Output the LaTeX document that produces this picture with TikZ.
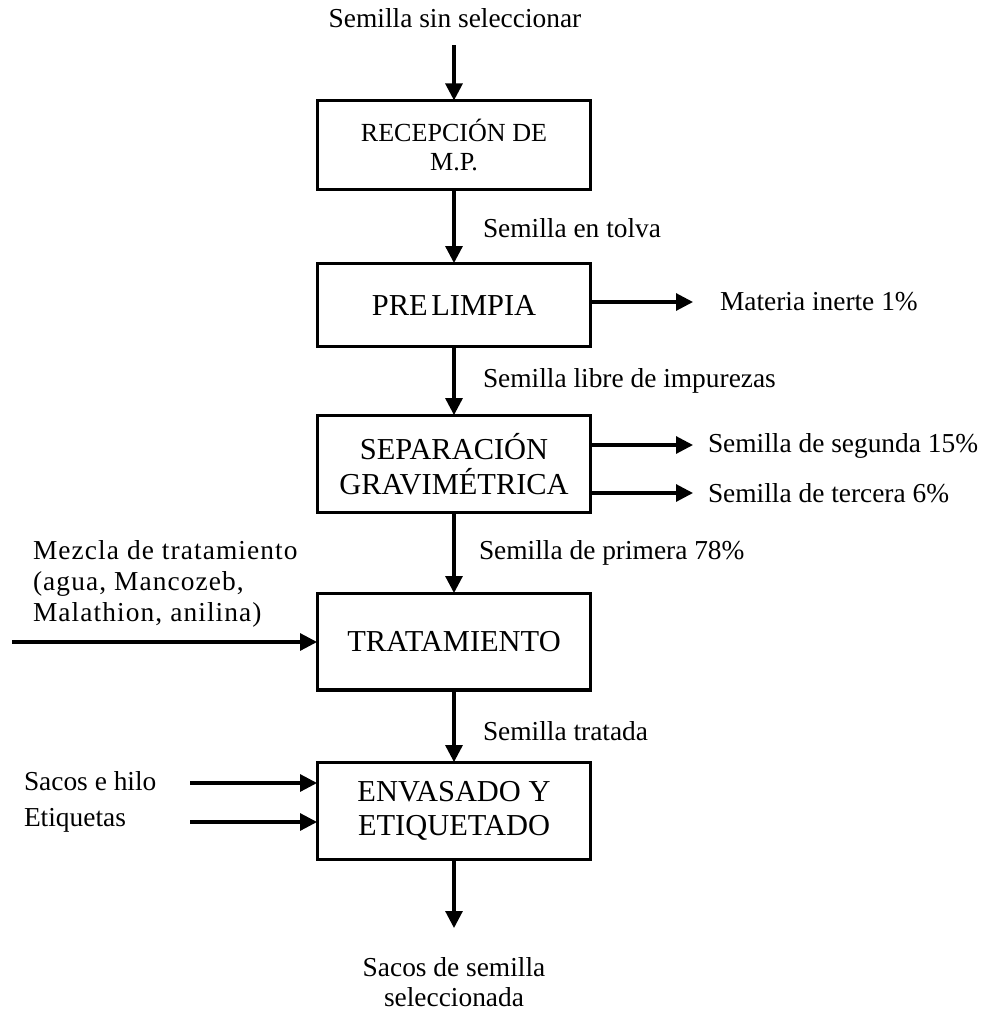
\documentclass[tikz,border=0pt]{standalone}
\usepackage{fontspec}
\setmainfont{Liberation Serif}
\usetikzlibrary{arrows.meta}
\begin{document}
\begin{tikzpicture}[x=0.46pt,y=-0.46pt,
  every node/.style={inner sep=0pt, outer sep=0pt},
  lbl/.style={font=\fontsize{12.6}{14}\selectfont, align=left},
  procbox/.style={draw, line width=1.4pt, minimum width=126pt, align=center,
    font=\fontsize{14}{15.8}\selectfont},
  flow/.style={line width=1.4pt, -{Triangle[length=7.8pt,width=7.8pt]}}]
\useasboundingbox (0,0) rectangle (986,1012);

% process boxes
\node[procbox, minimum height=41pt, font=\fontsize{12}{13.4}\selectfont] (recep) at (454,145) {RECEPCIÓN DE\\M.P.};
\node[procbox, minimum height=38.6pt] (prel) at (454,305) {PRE\hspace{0.12em}LIMPIA};
\node[procbox, minimum height=45pt] (sep) at (454,464) {SEPARACIÓN\\GRAVIMÉTRICA};
\node[procbox, minimum height=44.6pt] (trat) at (454,641.5) {TRATAMIENTO};
\node[procbox, minimum height=45pt] (env) at (454,811) {ENVASADO Y\\ETIQUETADO};

% stream labels
\node[lbl] (raw) at (455,18) {Semilla sin seleccionar};
\node[lbl, anchor=west] (tolva) at (483,228) {Semilla en tolva};
\node[lbl, anchor=west] (inerte) at (720,302) {Materia inerte 1\%};
\node[lbl, anchor=west] (libre) at (483,381) {Semilla libre de impurezas};
\node[lbl, anchor=west] (segunda) at (708,446) {Semilla de segunda 15\%};
\node[lbl, anchor=west] (tercera) at (708,493) {Semilla de tercera 6\%};
\node[lbl, anchor=west] (primera) at (479,553) {Semilla de primera 78\%};
\node[lbl, anchor=west, font=\fontsize{12.6}{14.2}\selectfont\addfontfeatures{LetterSpace=4}] (mezcla) at (33,584) {Mezcla de tratamiento\\(agua, Mancozeb,\\Malathion, anilina)};
\node[lbl, anchor=west] (tratada) at (483,731) {Semilla tratada};
\node[lbl, anchor=west] (sacos) at (24,781) {Sacos e hilo};
\node[lbl, anchor=west] (etiq) at (24,820) {Etiquetas};
\node[lbl, align=center] (final) at (454,982) {Sacos de semilla\\seleccionada};

% free ends of the streams
\coordinate (rawEnd) at (454,45);
\coordinate (inerteEnd) at (693,302);
\coordinate (segEnd) at (693,445);
\coordinate (terEnd) at (693,493);
\coordinate (mixStart) at (12,642);
\coordinate (sacStart) at (190,783);
\coordinate (etqStart) at (190,822);
\coordinate (outEnd) at (454,928);

% main line
\draw[flow] (rawEnd) -- (recep);
\draw[flow] (recep) -- (prel);
\draw[flow] (prel) -- (sep);
\draw[flow] (sep) -- (trat);
\draw[flow] (trat) -- (env);
\draw[flow] (env) -- (outEnd);

% side streams
\draw[flow] (prel.east |- inerteEnd) -- (inerteEnd);
\draw[flow] (sep.east |- segEnd) -- (segEnd);
\draw[flow] (sep.east |- terEnd) -- (terEnd);
\draw[flow] (mixStart) -- (trat.west |- mixStart);
\draw[flow] (sacStart) -- (env.west |- sacStart);
\draw[flow] (etqStart) -- (env.west |- etqStart);
\end{tikzpicture}
\end{document}
